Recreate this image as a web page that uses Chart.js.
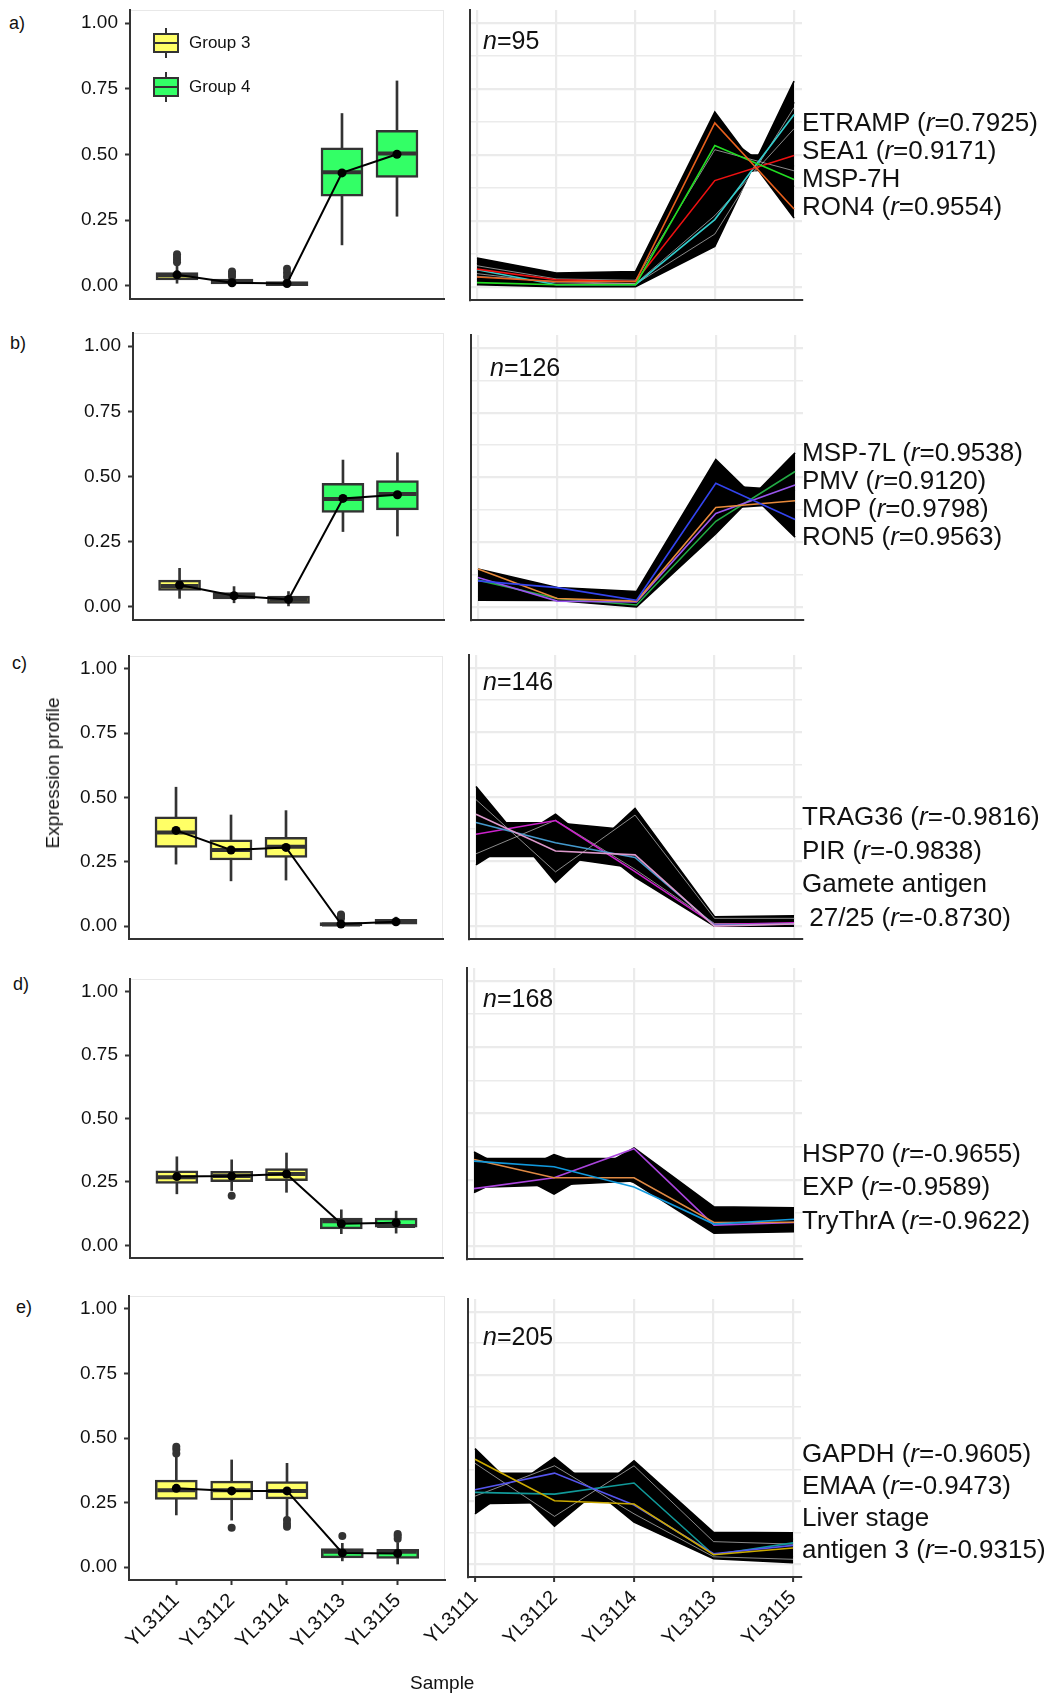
<!DOCTYPE html>
<html>
<head>
<meta charset="utf-8">
<title>Expression profiles of clusters</title>
<script src="https://cdn.jsdelivr.net/npm/chart.js@4.4.1/dist/chart.umd.min.js"></script>
<style>
  body { margin: 0; background: #fff; }
  #fig { position: relative; width: 1056px; height: 1695px; overflow: hidden; background: #fff;
         font-family: 'Liberation Sans', Arial, sans-serif; color: #111; }
  #fig canvas { position: absolute; }
  .txt { position: absolute; white-space: pre; line-height: 28px; }
  .big { font-size: 26px; }
  .nlab { font-size: 25px; }
  .tag { font-size: 18px; }
  .legtxt { font-size: 17px; }
  .axt { font-size: 19px; }
  .whisk { position: absolute; width: 2px; background: #333; }
  .gbox { position: absolute; box-sizing: border-box; width: 26px; height: 20px; border: 2px solid #333; }
  .gbox div { position: absolute; left: 0; right: 0; top: 7px; height: 2px; background: #333; }
</style>
</head>
<body>
<div id="fig"></div>
<script>
var samples = ['YL3111', 'YL3112', 'YL3114', 'YL3113', 'YL3115'];
var sampleGroup = [3, 3, 3, 4, 4];
var yTicks = [0, 0.25, 0.5, 0.75, 1];
var gridTicks = [0, 0.125, 0.25, 0.375, 0.5, 0.625, 0.75, 0.875, 1];

// box plot statistics, one row per panel a..e, one value per sample
var whiskerLow  = [[0.010, 0.000, 0.000, 0.156, 0.265],
                   [0.033, 0.016, 0.004, 0.289, 0.272],
                   [0.241, 0.176, 0.179, 0.000, 0.006],
                   [0.203, 0.216, 0.209, 0.046, 0.048],
                   [0.202, 0.182, 0.189, 0.024, 0.012]];
var quartile1   = [[0.023, 0.007, 0.001, 0.341, 0.413],
                   [0.063, 0.031, 0.014, 0.362, 0.372],
                   [0.306, 0.257, 0.267, 0.001, 0.008],
                   [0.244, 0.251, 0.255, 0.065, 0.072],
                   [0.262, 0.260, 0.264, 0.036, 0.034]];
var medianValue = [[0.040, 0.015, 0.007, 0.432, 0.504],
                   [0.080, 0.043, 0.028, 0.414, 0.433],
                   [0.364, 0.296, 0.309, 0.006, 0.016],
                   [0.268, 0.273, 0.281, 0.095, 0.076],
                   [0.298, 0.298, 0.295, 0.059, 0.059]];
var quartile3   = [[0.051, 0.026, 0.016, 0.525, 0.592],
                   [0.103, 0.055, 0.042, 0.474, 0.484],
                   [0.425, 0.335, 0.345, 0.014, 0.026],
                   [0.294, 0.292, 0.303, 0.107, 0.107],
                   [0.337, 0.333, 0.331, 0.072, 0.069]];
var whiskerHigh = [[0.080, 0.030, 0.030, 0.656, 0.780],
                   [0.148, 0.078, 0.059, 0.563, 0.591],
                   [0.540, 0.432, 0.449, 0.025, 0.035],
                   [0.349, 0.337, 0.364, 0.140, 0.135],
                   [0.434, 0.415, 0.402, 0.092, 0.095]];
var meanValue   = [[0.042, 0.012, 0.009, 0.430, 0.501],
                   [0.084, 0.043, 0.029, 0.416, 0.430],
                   [0.372, 0.296, 0.306, 0.008, 0.017],
                   [0.271, 0.273, 0.281, 0.085, 0.089],
                   [0.305, 0.295, 0.295, 0.055, 0.053]];
// outliers as [sample index, value]
var outliers = [
  [[0, 0.09], [0, 0.10], [0, 0.11], [0, 0.12], [1, 0.035], [1, 0.045], [1, 0.055], [2, 0.035], [2, 0.05], [2, 0.065]],
  [],
  [[3, 0.03], [3, 0.04], [3, 0.045]],
  [[1, 0.195]],
  [[0, 0.44], [0, 0.455], [0, 0.466], [1, 0.152], [2, 0.156], [2, 0.168], [2, 0.182], [3, 0.12], [4, 0.11], [4, 0.12], [4, 0.128]]
];

// cluster profiles (black bundle); consecutive pairs are filled between
var bundleA = [[0.109, 0.052, 0.058, 0.663, 0.261], [0.008, 0.000, 0.000, 0.153, 0.780],
               [0.070, 0.030, 0.030, 0.500, 0.500], [0.030, 0.010, 0.010, 0.420, 0.460],
               [0.090, 0.040, 0.040, 0.600, 0.380], [0.020, 0.005, 0.005, 0.250, 0.700]];
var bundleB = [[0.147, 0.075, 0.060, 0.569, 0.270], [0.026, 0.025, 0.000, 0.283, 0.595],
               [0.120, 0.060, 0.050, 0.470, 0.450], [0.040, 0.030, 0.010, 0.380, 0.400]];
var bundleC = [[0.541, 0.169, 0.456, 0.036, 0.040], [0.237, 0.433, 0.190, 0.000, 0.000],
               [0.400, 0.400, 0.370, 0.030, 0.030], [0.270, 0.270, 0.225, 0.005, 0.005]];
var bundleD = [[0.355, 0.195, 0.370, 0.147, 0.144], [0.201, 0.345, 0.239, 0.048, 0.053],
               [0.330, 0.330, 0.330, 0.120, 0.120], [0.220, 0.230, 0.245, 0.070, 0.070]];
var bundleE = [[0.458, 0.151, 0.410, 0.127, 0.125], [0.200, 0.423, 0.167, 0.022, 0.007],
               [0.360, 0.360, 0.360, 0.100, 0.100], [0.240, 0.245, 0.250, 0.040, 0.030]];
var bundles = [bundleA, bundleB, bundleC, bundleD, bundleE];

var paleProfiles = [
  [[0.05, 0.015, 0.01, 0.20, 0.68], [0.04, 0.02, 0.012, 0.27, 0.60], [0.08, 0.03, 0.025, 0.52, 0.44]],
  [],
  [[0.49, 0.21, 0.43, 0.03, 0.03], [0.28, 0.41, 0.22, 0.01, 0.01]],
  [],
  [[0.40, 0.19, 0.39, 0.09, 0.08], [0.27, 0.39, 0.20, 0.03, 0.02]]
];

// highlighted genes
var genesA = [[0.037, 0.020, 0.020, 0.622, 0.295], [0.016, 0.008, 0.008, 0.536, 0.407],
              [0.067, 0.027, 0.020, 0.403, 0.498], [0.065, 0.008, 0.008, 0.255, 0.654]];
var genesB = [[0.101, 0.075, 0.026, 0.478, 0.338], [0.147, 0.033, 0.023, 0.384, 0.410],
              [0.114, 0.023, 0.020, 0.361, 0.471], [0.104, 0.033, 0.008, 0.331, 0.523]];
var genesC = [[0.433, 0.291, 0.276, 0.000, 0.008], [0.401, 0.323, 0.266, 0.003, 0.008],
              [0.356, 0.409, 0.211, 0.006, 0.013]];
var genesD = [[0.320, 0.299, 0.222, 0.082, 0.100], [0.326, 0.257, 0.257, 0.088, 0.089],
              [0.216, 0.257, 0.367, 0.078, 0.088]];
var genesE = [[0.416, 0.252, 0.239, 0.038, 0.065], [0.295, 0.361, 0.235, 0.042, 0.075],
              [0.285, 0.278, 0.322, 0.038, 0.085]];
var genes = [genesA, genesB, genesC, genesD, genesE];

var geneLabels = [
  ['ETRAMP (r=0.7925)', 'SEA1 (r=0.9171)', 'MSP-7H', 'RON4 (r=0.9554)'],
  ['MSP-7L (r=0.9538)', 'PMV (r=0.9120)', 'MOP (r=0.9798)', 'RON5 (r=0.9563)'],
  ['TRAG36 (r=-0.9816)', 'PIR (r=-0.9838)', 'Gamete antigen', ' 27/25 (r=-0.8730)'],
  ['HSP70 (r=-0.9655)', 'EXP (r=-0.9589)', 'TryThrA (r=-0.9622)'],
  ['GAPDH (r=-0.9605)', 'EMAA (r=-0.9473)', 'Liver stage', 'antigen 3 (r=-0.9315)']
];
var clusterSize = [95, 126, 146, 168, 205];
var panelTags = ['a)', 'b)', 'c)', 'd)', 'e)'];

// styling and layout
var groupFill = { 3: '#ffff66', 4: '#33ff66' };
var geneColours = [
  ['#e8601c', '#22dd22', '#ee1111', '#33cccc'],
  ['#3344ee', '#e88a3a', '#9955ee', '#22aa44'],
  ['#dd99cc', '#4499cc', '#cc22cc'],
  ['#1199dd', '#e08a44', '#aa44dd'],
  ['#ccaa00', '#5555ee', '#119999']
];
var leftArea  = [[130, 10, 444, 299], [133, 333, 444, 620], [129, 656, 443, 939], [130, 979, 443, 1258], [129, 1296, 445, 1580]];
var rightArea = [[470, 10, 802, 300], [471, 335, 803, 620], [469, 655, 802, 939], [467, 968, 802, 1259], [468, 1299, 801, 1577]];
var labelPos  = [[122, 28], [452, 28], [816, 33.6], [1153, 33.3], [1453, 32]];
var nPos      = [[483, 40], [490, 367], [483, 681], [483, 998], [483, 1336]];
var tagPos    = [[9, 23], [10, 343], [12, 663], [13, 984], [16, 1307]];

Chart.defaults.font.family = "'Liberation Sans', Arial, sans-serif";
Chart.defaults.font.size = 19;
Chart.defaults.color = '#111';

var fig = document.getElementById('fig');

function addCanvas(left, top, width, height) {
  var c = document.createElement('canvas');
  c.width = width; c.height = height;
  c.style.left = left + 'px'; c.style.top = top + 'px';
  c.style.width = width + 'px'; c.style.height = height + 'px';
  fig.appendChild(c);
  return c;
}

function addText(cls, x, yCenter, html) {
  var d = document.createElement('div');
  d.className = 'txt ' + cls;
  d.style.left = x + 'px';
  d.style.top = (yCenter - 14) + 'px';
  d.innerHTML = html;
  fig.appendChild(d);
  return d;
}

function fixSize(size, horizontal) {
  return function (scale) {
    if (horizontal) scale.height = size; else scale.width = size;
    scale.paddingLeft = 0; scale.paddingRight = 0;
    scale.paddingTop = 0; scale.paddingBottom = 0;
  };
}

function ticksAt(values) {
  return function (scale) {
    scale.ticks = values.map(function (v) { return { value: v }; });
  };
}

var framePlugin = {
  id: 'frame',
  beforeDraw: function (chart, args, opts) {
    if (!opts.color) return;
    var a = chart.chartArea, ctx = chart.ctx;
    ctx.save();
    ctx.strokeStyle = opts.color;
    ctx.lineWidth = 1;
    ctx.strokeRect(a.left + 0.5, a.top + 0.5, a.right - a.left - 1, a.bottom - a.top - 1);
    ctx.restore();
  }
};

var idx = [0, 1, 2, 3, 4];

function boxChart(r) {
  var area = leftArea[r];
  var last = r === 4;
  var bottomRoom = last ? 90 : 8;
  var cvLeft = 60, cvTop = area[1] - 6;
  var canvas = addCanvas(cvLeft, cvTop, area[2] + 6 - cvLeft, area[3] + bottomRoom - cvTop);
  new Chart(canvas, {
    type: 'bar',
    data: {
      datasets: [
        { type: 'line', data: idx.map(function (i) { return { x: i, y: meanValue[r][i] }; }),
          borderColor: '#000', borderWidth: 2, tension: 0,
          pointRadius: 4.5, pointBackgroundColor: '#000', pointBorderColor: '#000', pointBorderWidth: 0 },
        { type: 'line', showLine: false, data: idx.map(function (i) { return { x: i, y: medianValue[r][i] }; }),
          pointStyle: 'line', pointRadius: 19, pointBorderWidth: 4, pointBorderColor: '#333' },
        { type: 'line', showLine: false, data: outliers[r].map(function (o) { return { x: o[0], y: o[1] }; }),
          pointRadius: 4, pointBackgroundColor: '#333', pointBorderColor: '#333', pointBorderWidth: 0 },
        { type: 'bar', grouped: false, data: idx.map(function (i) { return { x: i, y: [quartile1[r][i], quartile3[r][i]] }; }),
          backgroundColor: sampleGroup.map(function (g) { return groupFill[g]; }),
          borderColor: '#333', borderWidth: 2.5, borderSkipped: false, barThickness: 42, maxBarThickness: 42 },
        { type: 'bar', grouped: false, data: idx.map(function (i) { return { x: i, y: [whiskerLow[r][i], whiskerHigh[r][i]] }; }),
          backgroundColor: '#333', borderWidth: 0, barThickness: 2, maxBarThickness: 2 }
      ]
    },
    options: {
      responsive: false, animation: false, devicePixelRatio: 1,
      layout: { autoPadding: false, padding: { left: 0, top: 6, right: 6, bottom: 0 } },
      plugins: { legend: { display: false }, tooltip: { enabled: false }, frame: { color: '#e8e8e8' } },
      scales: {
        x: {
          type: 'linear', min: -0.855, max: 4.855, offset: false,
          afterBuildTicks: ticksAt(idx), afterFit: fixSize(bottomRoom, true),
          grid: { display: last, drawOnChartArea: false, offset: false, tickLength: 5, tickColor: '#333', tickWidth: 2 },
          border: { color: '#333', width: 2 },
          ticks: { display: last, autoSkip: false, minRotation: 45, maxRotation: 45, padding: 4,
                   font: { size: 20 }, callback: function (v) { return samples[v]; } }
        },
        y: {
          min: -0.05, max: 1.05,
          afterBuildTicks: ticksAt(yTicks), afterFit: fixSize(area[0] - cvLeft, false),
          grid: { drawOnChartArea: false, tickLength: 5, tickColor: '#333', tickWidth: 2 },
          border: { color: '#333', width: 2 },
          ticks: { padding: 7, callback: function (v) { return v.toFixed(2); } }
        }
      }
    },
    plugins: [framePlugin]
  });
}

function profileChart(r) {
  var area = rightArea[r];
  var last = r === 4;
  var bottomRoom = last ? 90 : 6;
  var cvLeft = last ? 400 : area[0] - 4, cvTop = area[1] - 4;
  var canvas = addCanvas(cvLeft, cvTop, area[2] + 2 - cvLeft, area[3] + bottomRoom - cvTop);
  var toPts = function (vals) { return vals.map(function (v, i) { return { x: i, y: v }; }); };
  var sets = [];
  genes[r].forEach(function (g, k) {
    sets.push({ data: toPts(g), borderColor: geneColours[r][k], borderWidth: 1.6, pointRadius: 0, tension: 0, fill: false });
  });
  paleProfiles[r].forEach(function (p) {
    sets.push({ data: toPts(p), borderColor: 'rgba(255,255,255,0.6)', borderWidth: 0.9, pointRadius: 0, tension: 0, fill: false });
  });
  bundles[r].forEach(function (p, k) {
    sets.push({ data: toPts(p), borderColor: '#000', borderWidth: 1.6, pointRadius: 0, tension: 0,
                backgroundColor: '#000', fill: k % 2 === 0 ? '+1' : false });
  });
  new Chart(canvas, {
    type: 'line',
    data: { datasets: sets },
    options: {
      responsive: false, animation: false, devicePixelRatio: 1,
      layout: { autoPadding: false, padding: { left: 0, top: 4, right: 2, bottom: 0 } },
      plugins: { legend: { display: false }, tooltip: { enabled: false } },
      scales: {
        x: {
          type: 'linear', min: -0.088, max: 4.1, offset: false,
          afterBuildTicks: ticksAt(idx), afterFit: fixSize(bottomRoom, true),
          grid: { color: '#ebebeb', lineWidth: 2.2, drawTicks: last, tickLength: 5, tickColor: '#333', tickWidth: 2 },
          border: { color: '#333', width: 2 },
          ticks: { display: last, autoSkip: false, minRotation: 45, maxRotation: 45, padding: 4,
                   font: { size: 20 }, callback: function (v) { return samples[v]; } }
        },
        y: {
          min: -0.05, max: 1.05,
          afterBuildTicks: ticksAt(gridTicks), afterFit: fixSize(area[0] - cvLeft, false),
          grid: { color: '#ebebeb', drawTicks: false,
                  lineWidth: function (c) { return (c.tick && Math.abs(c.tick.value * 4 - Math.round(c.tick.value * 4)) < 1e-6) ? 2.2 : 1.6; } },
          border: { color: '#333', width: 2 },
          ticks: { display: false }
        }
      }
    }
  });
}

for (var r = 0; r < 5; r++) {
  boxChart(r);
  profileChart(r);
  addText('tag', tagPos[r][0], tagPos[r][1], panelTags[r]);
  addText('nlab', nPos[r][0], nPos[r][1], '<i>n</i>=' + clusterSize[r]);
  geneLabels[r].forEach(function (s, k) {
    addText('big', 802, labelPos[r][0] + k * labelPos[r][1], s.replace('(r=', '(<i>r</i>='));
  });
}

// legend for panel a
[[3, 33], [4, 77]].forEach(function (g) {
  var w = document.createElement('div');
  w.className = 'whisk';
  w.style.left = '165px'; w.style.top = (g[1] - 5) + 'px'; w.style.height = '30px';
  fig.appendChild(w);
  var b = document.createElement('div');
  b.className = 'gbox';
  b.style.left = '153px'; b.style.top = g[1] + 'px'; b.style.background = groupFill[g[0]];
  b.appendChild(document.createElement('div'));
  fig.appendChild(b);
  addText('legtxt', 189, g[1] + 10, 'Group ' + g[0]);
});

// shared axis titles
var yt = document.createElement('div');
yt.className = 'txt axt';
yt.textContent = 'Expression profile';
yt.style.left = '53px'; yt.style.top = '773px';
yt.style.transform = 'translate(-50%, -50%) rotate(-90deg)';
fig.appendChild(yt);

addText('axt', 410, 1683, 'Sample');
</script>
</body>
</html>
